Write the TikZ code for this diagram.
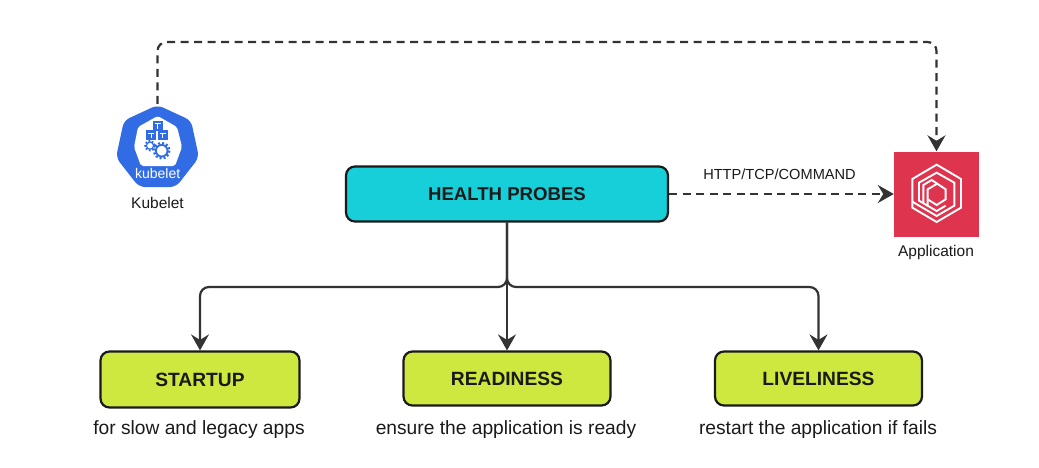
\documentclass[tikz,border=0pt]{standalone}
\usepackage{fontspec}
\setmainfont{Liberation Sans}
\usetikzlibrary{arrows.meta}
\definecolor{ink}{HTML}{1A1A1A}
\definecolor{linec}{HTML}{333333}
\definecolor{cyanbox}{HTML}{16CFD8}
\definecolor{limebox}{HTML}{CFE83F}
\definecolor{kblue}{HTML}{326CE5}
\definecolor{appred}{HTML}{DF344E}
\tikzset{
  x=1pt,y=-1pt,
  box/.style={draw=ink,line width=2.2pt,rounded corners=9pt,inner sep=0pt,font=\fontsize{18.6}{22}\selectfont\bfseries,text=ink},
  limebx/.style={box,fill=limebox,font=\fontsize{19.2}{22}\selectfont\bfseries},
  capt/.style={font=\fontsize{19.2}{22}\selectfont,text=ink,inner sep=0pt},
  small/.style={font=\fontsize{15.5}{18}\selectfont,text=ink,inner sep=0pt},
  conn/.style={draw=linec,line width=2.2pt,rounded corners=9pt,-{Stealth[length=16pt,width=18pt,inset=5.5pt]}},
  dconn/.style={conn,dash pattern=on 8pt off 5.5pt},
  appline/.style={draw=white,line width=1.9pt,line join=miter},
}
\begin{document}
\begin{tikzpicture}
\useasboundingbox (0,0) rectangle (1039,467);
\fill[white] (0,0) rectangle (1039,467);
% boxes
\node[box,fill=cyanbox,minimum width=322pt,minimum height=55pt] (hp) at (507,194) {HEALTH PROBES};
\node[limebx,minimum width=199pt,minimum height=56pt] (su) at (200,379.5) {STARTUP};
\node[limebx,minimum width=207pt,minimum height=54pt] (re) at (507,378.5) {READINESS};
\node[limebx,minimum width=207pt,minimum height=54pt] (li) at (818.5,378.5) {LIVELINESS};
\node[capt] (c1) at (199,430) {for slow and legacy apps};
\node[capt] (c2) at (506,430) {ensure the application is ready};
\node[capt] (c3) at (818,430) {restart the application if fails};
% kubelet icon
\node[minimum width=82pt,minimum height=84pt,inner sep=0pt] (kub) at (157.5,146) {};
\fill[kblue,rounded corners=6pt] (157.5,105) -- (191,120.5) -- (199,157.5) -- (176,187) -- (139,187) -- (116,157.5) -- (124,120.5) -- cycle;
\fill[white,rounded corners=2pt] (157.7,116) -- (177,127) -- (182,147) -- (175,166) -- (141,166) -- (134,147) -- (138,127) -- cycle;
\foreach \cx/\cy in {157.7/125.7,151/135,162.7/135}{
  \fill[kblue] (\cx-5,\cy-5) rectangle (\cx+5,\cy+5);
  \draw[white,line width=0.7pt] (\cx-3,\cy-2) -- (\cx+3,\cy-2) (\cx,\cy-2) -- (\cx,\cy+3);
}
\draw[kblue,line width=1.8pt,dash pattern=on 1.8pt off 1.6pt] (150,145.7) circle (4.8);
\draw[kblue,line width=1.2pt] (150,145.7) circle (3.6);
\draw[kblue,line width=2.4pt,dash pattern=on 2pt off 2pt] (161.7,150.7) circle (7.6);
\draw[kblue,line width=1.8pt] (161.7,150.7) circle (5.8);
\node[font=\fontsize{14}{16}\selectfont,text=white,inner sep=0pt] (kt) at (157.7,173) {kubelet};
\node[small] (kl) at (157.5,203) {Kubelet};
% application icon
\node[fill=appred,minimum size=85pt,inner sep=0pt] (app) at (936.5,194) {};
\begin{scope}[shift={(905,160)},x=0.3333pt,y=-0.3333pt]
\draw[appline] (95,14) -- (168,57) -- (168,143) -- (95,186) -- (22,143) -- (22,57) -- cycle;
\draw[appline] (22,125) -- (95,168) -- (148,137) -- (148,68) -- (95,38) -- (42,68) -- (42,122) -- (95,153) -- (122,137);
\draw[appline] (55,130) -- (55,75) -- (80,60) -- (122,88) -- (122,118) -- (95,135) -- (68,118);
\draw[appline] (68,140) -- (68,88) -- (95,72);
\end{scope}
\node[small] (al) at (936,252.5) {Application};
% connectors
\coordinate (bus) at (507,287);
\draw[conn] (hp.south) -- (bus) -| (su.north);
\draw[conn] (hp.south) -- (re.north);
\draw[conn] (hp.south) -- (bus) -| (li.north);
\coordinate (topl) at (157.5,42);
\draw[dconn] (kub.north) -- (topl) -| (app.north);
\draw[dconn] (hp.east) -- (app.west);
\node[font=\fontsize{14.6}{18}\selectfont,text=ink,inner sep=0pt] (lbl) at (779.5,174.5) {HTTP/TCP/COMMAND};
\end{tikzpicture}
\end{document}
